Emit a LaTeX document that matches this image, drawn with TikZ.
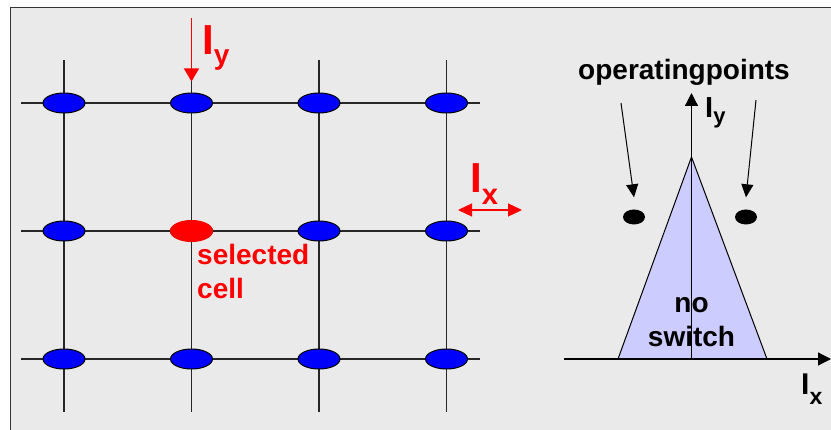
\documentclass[tikz,border=0pt]{standalone}
\usepackage{fontspec}
\setmainfont{Liberation Sans}
\usetikzlibrary{arrows.meta,shapes.geometric}
\definecolor{panel}{HTML}{EAEAEA}
\definecolor{lavender}{HTML}{CCCCFF}
\definecolor{frameline}{HTML}{333333}
\begin{document}
\begin{tikzpicture}[x=1pt,y=-1pt,
  cell/.style={ellipse, draw=black, line width=1pt, fill=blue,
    minimum width=42pt, minimum height=20pt, inner sep=0pt},
  selcell/.style={ellipse, fill=red, minimum width=43pt,
    minimum height=22pt, inner sep=0pt},
  oppoint/.style={ellipse, fill=black, minimum width=22pt,
    minimum height=15pt, inner sep=0pt},
  wire/.style={line width=1.2pt, black!85},
  axis/.style={line width=1.2pt, -{Triangle[length=13pt,width=13pt]}},
  pointer/.style={line width=1pt, -{Triangle[length=13pt,width=12pt]}},
  current/.style={line width=1.3pt, red},
  txt/.style={font=\bfseries\fontsize{28}{34}\selectfont, inner sep=0pt},
]
% canvas and panel frame
\useasboundingbox (0,0) rectangle (831,430);
\fill[white] (0,0) rectangle (831,430);
\fill[panel] (10.5,7.5) rectangle (831,430);
\draw[frameline, line width=1.5pt] (10.5,430) -- (10.5,7.5) -- (831,7.5);

% ---------- memory array ----------
\foreach \r/\y in {1/103, 2/231, 3/359} {
  \coordinate (rowL\r) at (21,\y);
  \coordinate (rowR\r) at (480,\y);
  \draw[wire] (rowL\r) -- (rowR\r);
}
\foreach \c/\x in {1/64, 2/191.5, 3/319, 4/446.5} {
  \coordinate (colT\c) at (\x,60);
  \coordinate (colB\c) at (\x,412);
  \draw[wire] (colT\c) -- (colB\c);
}
\foreach \r/\y in {1/103, 2/231, 3/359}
  \foreach \c/\x in {1/64, 2/191.5, 3/319, 4/446.5}
    \node[cell] (c\r\c) at (\x,\y) {};
\node[selcell] (sel) at (191.5,231) {};

% selected-cell caption (base anchor sits on the last line)
\node[txt, text=red, align=left, anchor=base west] (selt) at (197,299)
  {selected\\cell};

% word-line current I_y
\coordinate (iytop) at (191.5,18);
\draw[current, -{Triangle[length=13pt,width=15pt]}] (iytop) -- ([yshift=11pt]c12.north);
\node[inner sep=0pt, anchor=base west, text=red,
  font=\bfseries\fontsize{42}{42}\selectfont] (iyl) at (202,55)
  {I\raisebox{-10pt}{\fontsize{28}{28}\selectfont y}};

% bit-line current I_x
\coordinate (ixa) at (458,210);
\coordinate (ixb) at (522,210);
\draw[current, {Triangle[length=14pt,width=13pt]}-{Triangle[length=14pt,width=13pt]}] (ixa) -- (ixb);
\node[inner sep=0pt, anchor=base west, text=red,
  font=\bfseries\fontsize{42}{42}\selectfont] (ixl) at (470,193)
  {I\raisebox{-12pt}{\fontsize{29}{29}\selectfont x}};

% ---------- switching astroid ----------
\coordinate (apex) at (691.5,157);
\coordinate (baseL) at (618,359);
\coordinate (baseR) at (767,359);
\draw[fill=lavender, line width=1pt] (baseL) -- (apex) -- (baseR) -- cycle;

\coordinate (xstart) at (564,359);
\coordinate (xend) at (831,359);
\coordinate (ystart) at (691.5,359);
\coordinate (yend) at (691.5,93);
\draw[axis] (xstart) -- (xend);
\draw[axis] (ystart) -- (yend);

\node[inner sep=0pt, anchor=base west,
  font=\bfseries\fontsize{29}{29}\selectfont] (ayl) at (705,118)
  {I\raisebox{-6pt}{\fontsize{22}{22}\selectfont y}};
\node[inner sep=0pt, anchor=base west,
  font=\bfseries\fontsize{30}{30}\selectfont] (axl) at (801,395)
  {I\raisebox{-10pt}{\fontsize{23}{23}\selectfont x}};

\node[txt, align=center, anchor=base] (nosw) at (691.5,347) {no\\switch};

% operating points
\node[oppoint] (opL) at (634,217) {};
\node[oppoint] (opR) at (746,217) {};
\node[txt, anchor=base] (optxt) at (684,80) {operatingpoints};
\coordinate (pL) at (621,103);
\coordinate (pR) at (756,100);
\draw[pointer] (pL) -- ([yshift=12pt]opL.north);
\draw[pointer] (pR) -- ([yshift=12pt]opR.north);
\end{tikzpicture}
\end{document}
